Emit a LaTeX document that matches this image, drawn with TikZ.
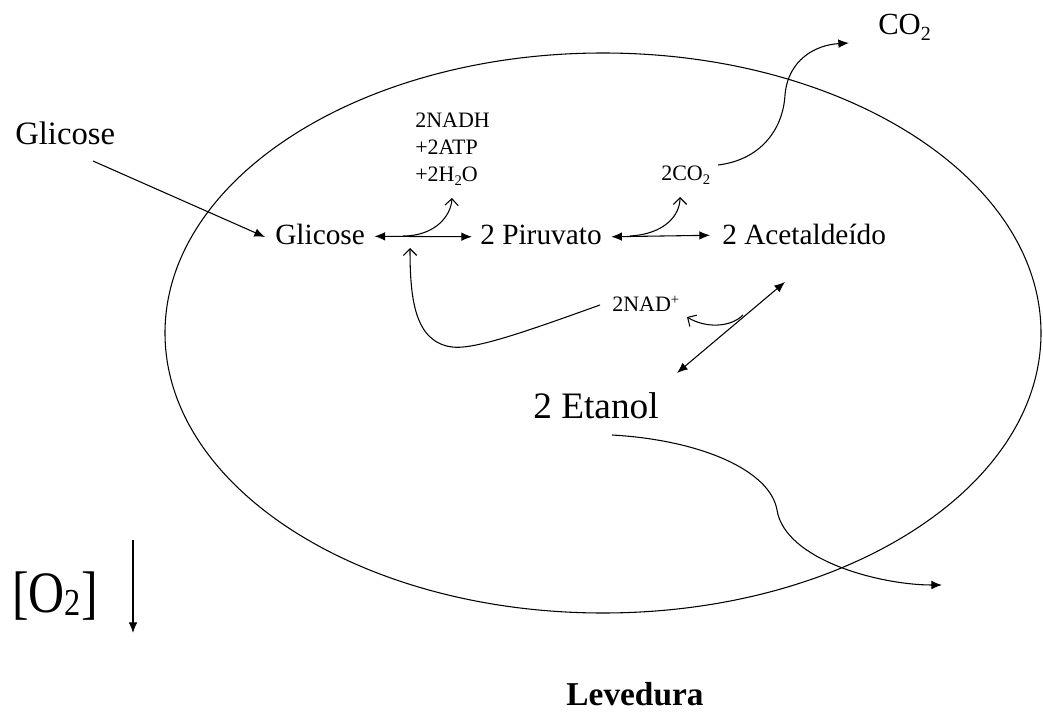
\documentclass[tikz,border=0pt]{standalone}
\usepackage{fontspec}
\setmainfont{Liberation Serif}
\usetikzlibrary{arrows.meta}
\tikzset{
  lbl/.style={anchor=base west, inner sep=0pt},
  big/.style={lbl, font=\fontsize{22}{26}\selectfont},
  small/.style={lbl, font=\fontsize{16.5}{20.6}\selectfont, align=left},
  ln/.style={line width=0.8pt},
  fill tip/.style={ln, -{Latex[length=8pt,width=6.5pt]}},
  dbl tip/.style={ln, {Latex[length=8pt,width=6.5pt]}-{Latex[length=8pt,width=6.5pt]}},
  open tip/.style={ln, -{Straight Barb[length=5pt,width=10pt]}}
}
\begin{document}
\begin{tikzpicture}[x=0.75pt,y=-0.75pt]
\useasboundingbox (0,0) rectangle (1043,713);
% cell
\draw[ln] (603,333) ellipse [x radius=438, y radius=280];
% texts
\node[lbl, font=\fontsize{24.5}{28}\selectfont] (glo) at (15,145) {Glicose};
\node[big] (gl) at (275,245) {Glicose};
\node[big] (pir) at (480,245) {2 Piruvato};
\node[big] (ace) at (722,244) {2 Acetaldeído};
\node[lbl, font=\fontsize{28}{32}\selectfont] (eta) at (533,418) {2 Etanol};
\node[small] (nadh) at (415,182) {2NADH\\+2ATP\\+2H\raisebox{-2.5pt}{\fontsize{11}{12}\selectfont 2}O};
\node[small] (co2i) at (661,181) {2CO\raisebox{-3pt}{\fontsize{11}{12}\selectfont 2}};
\node[small] (nad) at (612,311) {2NAD\raisebox{5pt}{\fontsize{11}{12}\selectfont +}};
\node[lbl, font=\fontsize{23}{27}\selectfont] (co2o) at (878,35) {CO\raisebox{-4pt}{\fontsize{15}{16}\selectfont 2}};
\node[lbl, font=\fontsize{44}{48}\selectfont] (o2) at (12,612) {\scalebox{0.85}[1]{[O\raisebox{-2.5pt}{\fontsize{28.6}{30}\selectfont 2}]}};
\node[anchor=base, inner sep=0pt, font=\fontsize{25}{29}\selectfont\bfseries] (lev) at (635,705) {Levedura};
% connector end points
\coordinate (g1) at (93,161);
\coordinate (g2) at (265,237);
\coordinate (b1) at (403,236);
\coordinate (b2) at (630,236);
\coordinate (b3) at (743,315);
\coordinate (e1) at (785,282);
\coordinate (e2) at (677,373);
\coordinate (c1) at (718,165);
\coordinate (n1) at (600,305);
\coordinate (t1) at (612,435);
\coordinate (o2a) at (133,540);
\coordinate (o2b) at (133,633);
% connectors
\draw[fill tip] (g1) -- (g2);
\draw[dbl tip] ([xshift=7pt,yshift=-1pt]gl.east) -- ([xshift=-6pt,yshift=-1pt]pir.west);
\draw[dbl tip] ([xshift=7pt,yshift=-1pt]pir.east) -- ([xshift=-9pt,yshift=-1pt]ace.west);
\draw[dbl tip] (e1) -- (e2);
\draw[open tip] (b1) .. controls (435,236) and (451,216) .. (452,198);
\draw[open tip] (b2) .. controls (665,234) and (680,215) .. (680,197);
\draw[open tip] (b3) .. controls (730,328) and (705,328) .. (687,317);
\draw[open tip] (n1) .. controls (530,330) and (475,350) .. (452,347) .. controls (415,342) and (410,300) .. (410,248);
\draw[fill tip] (c1) .. controls (760,160) and (783,130) .. (785,95) .. controls (788,60) and (815,45) .. (849,43);
\draw[fill tip] (t1) .. controls (700,440) and (770,470) .. (777,510) .. controls (785,560) and (880,585) .. (942,585);
\draw[fill tip] (o2a) -- (o2b);
\end{tikzpicture}
\end{document}
